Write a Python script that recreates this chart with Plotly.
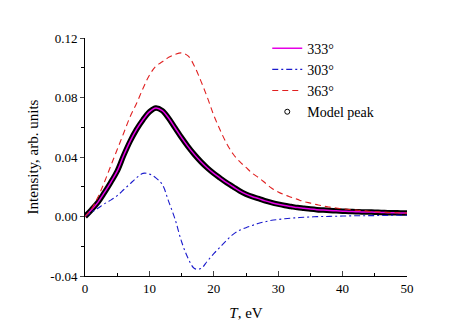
import plotly.graph_objects as go

T = list(range(0, 51))

i333 = [0.000, 0.0045, 0.0095, 0.016, 0.023, 0.0305, 0.041, 0.0505, 0.0585, 0.065,
        0.0703, 0.073, 0.0712, 0.066, 0.0595, 0.053, 0.047, 0.0416, 0.0368, 0.0326,
        0.029, 0.0258, 0.0227, 0.020, 0.0172, 0.015, 0.0133, 0.012, 0.0105, 0.0093,
        0.0083, 0.0074, 0.0067, 0.006, 0.0055, 0.005, 0.0046, 0.0043, 0.004, 0.0038,
        0.0036, 0.0034, 0.0032, 0.0031, 0.003, 0.0029, 0.0027, 0.0026, 0.0025, 0.0024,
        0.0023]

i303 = [0.000, 0.0028, 0.0055, 0.0085, 0.011, 0.014, 0.018, 0.022, 0.026, 0.029,
        0.0285, 0.026, 0.0215, 0.010, -0.002, -0.017, -0.028, -0.035, -0.035, -0.030,
        -0.025, -0.0205, -0.016, -0.012, -0.0093, -0.0075, -0.006, -0.0045, -0.0035, -0.0025,
        -0.002, -0.0015, -0.0011, -0.0008, -0.0005, -0.0003, -0.0001, 0.0, 0.0001, 0.0002,
        0.0003, 0.0004, 0.0005, 0.0005, 0.0006, 0.0006, 0.0007, 0.0007, 0.0008, 0.0008,
        0.0008]

i363 = [0.000, 0.005, 0.013, 0.023, 0.034, 0.045, 0.056, 0.067, 0.076, 0.086,
        0.095, 0.101, 0.104, 0.107, 0.109, 0.110, 0.108, 0.101, 0.091, 0.080,
        0.068, 0.058, 0.049, 0.042, 0.037, 0.033, 0.029, 0.026, 0.0225, 0.019,
        0.0165, 0.0145, 0.013, 0.0115, 0.010, 0.009, 0.008, 0.007, 0.0063, 0.0057,
        0.0052, 0.0047, 0.0043, 0.004, 0.0035, 0.0032, 0.003, 0.0028, 0.0026, 0.0024,
        0.0023]

model_peak = i333

x_ticks = [0, 10, 20, 30, 40, 50]
y_ticks = [-0.04, 0.00, 0.04, 0.08, 0.12]
y_tick_labels = ["-0.04", "0.00", "0.04", "0.08", "0.12"]

font_family = "Liberation Serif"

fig = go.Figure()

# Model peak: dense circles appear as a thick black band
fig.add_trace(go.Scatter(x=T, y=model_peak, mode="lines", line=dict(color="black", width=5.5, shape="spline"),
                         showlegend=False, hoverinfo="skip"))
fig.add_trace(go.Scatter(x=T, y=i333, mode="lines", name="333°",
                         line=dict(color="#e600e6", width=1.5, shape="spline"), legendrank=1))
fig.add_trace(go.Scatter(x=T, y=i303, mode="lines", name="303°",
                         line=dict(color="#1a1acc", width=1.1, dash="6px,3px,2px,3px", shape="spline"), legendrank=2))
fig.add_trace(go.Scatter(x=T, y=i363, mode="lines", name="363°",
                         line=dict(color="#e02020", width=1.1, dash="6px,4px", shape="spline"), legendrank=3))
fig.add_trace(go.Scatter(x=[None], y=[None], mode="markers", name="Model peak",
                         marker=dict(symbol="circle-open", size=5, color="black", line=dict(width=1)),
                         legendrank=4))

# page body has an 8px margin, so the figure is sized/placed to compensate
fig.update_layout(
    width=465, height=323,
    margin=dict(l=76.5, r=66.3, t=30.3, b=55, autoexpand=False),
    paper_bgcolor="white", plot_bgcolor="white",
    font=dict(family=font_family, size=13, color="black"),
    legend=dict(x=0.566, y=1.023, xanchor="left", yanchor="top",
                bgcolor="rgba(0,0,0,0)", font=dict(size=14, family=font_family),
                tracegroupgap=0, itemwidth=30),
    xaxis=dict(range=[0, 50], tickvals=x_ticks, ticks="inside", ticklen=5,
               showline=True, linecolor="black", linewidth=1, showgrid=False, zeroline=False,
               minor=dict(dtick=5, ticks="inside", ticklen=3, tickcolor="black"),
               tickfont=dict(size=13), automargin=False,
               title=dict(text="<i>T</i>, eV", font=dict(size=15), standoff=12)),
    yaxis=dict(range=[-0.04, 0.12], tickvals=y_ticks, ticktext=y_tick_labels, ticks="outside", ticklen=4,
               showline=True, linecolor="black", linewidth=1, showgrid=False, zeroline=False,
               minor=dict(tickvals=[-0.02, 0.02, 0.06, 0.10], ticks="outside", ticklen=3, tickcolor="black"),
               tickfont=dict(size=13), automargin=False,
               title=dict(text="Intensity, arb. units", font=dict(size=15), standoff=8)),
)

fig.write_html("out.html")
